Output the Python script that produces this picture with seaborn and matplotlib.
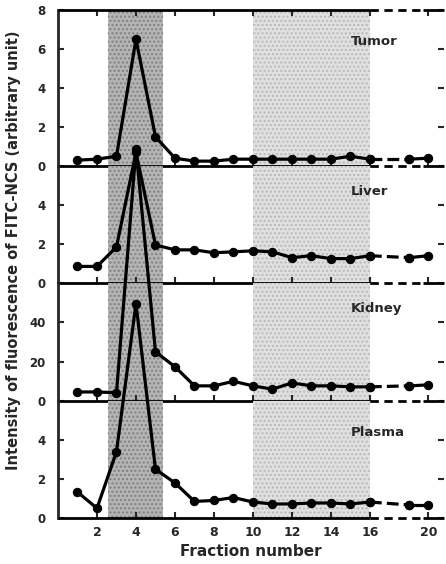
# plot.py
# Stacked panels: FITC-NCS fluorescence per gel fraction in four tissues.

import numpy as np
import pandas as pd
import matplotlib
matplotlib.use("Agg")
import matplotlib.pyplot as plt
import seaborn as sns

# fraction numbers (axis is broken between 16 and 19)
fractions = [1, 2, 3, 4, 5, 6, 7, 8, 9, 10, 11, 12, 13, 14, 15, 16, 19, 20]

tumor = [0.3, 0.35, 0.5, 6.5, 1.5, 0.4, 0.25, 0.25, 0.35, 0.35,
         0.35, 0.35, 0.35, 0.35, 0.5, 0.35, 0.35, 0.4]
liver = [0.85, 0.85, 1.85, 6.7, 1.95, 1.7, 1.7, 1.55, 1.6, 1.65,
         1.6, 1.3, 1.4, 1.25, 1.25, 1.4, 1.3, 1.4]
kidney = [4.6, 4.6, 4.2, 128, 25, 17.4, 7.7, 7.7, 10, 7.7,
          6, 9.2, 7.7, 7.7, 7.2, 7.2, 7.7, 8.2]
plasma = [1.33, 0.5, 3.4, 11.0, 2.5, 1.8, 0.85, 0.9, 1.05, 0.82,
          0.72, 0.72, 0.77, 0.77, 0.72, 0.82, 0.67, 0.67]

panel_names = ["Tumor", "Liver", "Kidney", "Plasma"]
panel_values = [tumor, liver, kidney, plasma]
panel_ylim = [8, 6, 60, 6]
panel_yticks = [[0, 2, 4, 6, 8], [0, 2, 4], [0, 20, 40], [0, 2, 4]]
label_y = [6.36, 4.67, 47, 4.36]

xtick_labels = [2, 4, 6, 8, 10, 12, 14, 16, 20]

# shaded fraction ranges
shade_dark = (2.56, 5.38)
shade_light = (10.0, 16.0)

sns.set_style("ticks")
plt.rcParams["font.family"] = ["DejaVu Sans"]
plt.rcParams["font.weight"] = "bold"


def to_pos(x):
    # compress the axis break: fractions above 16 move one unit left
    x = np.asarray(x, dtype=float)
    return np.where(x > 16, x - 1, x)


W, H = 446, 564
fig = plt.figure(figsize=(W / 100, H / 100), dpi=100)

# panel edges in pixels from the top
edges = [10, 166, 283, 401, 518]
left_px, right_px = 58, 444
xmax = 19.8

axes = []
for i, name in enumerate(panel_names):
    top, bot = edges[i], edges[i + 1]
    ax = fig.add_axes([left_px / W, 1 - bot / H,
                       (right_px - left_px) / W, (bot - top) / H])
    ax.patch.set_alpha(0)
    ax.set_xlim(0, xmax)
    ax.set_ylim(0, panel_ylim[i])

    ax.axvspan(*shade_dark, facecolor="#b4b4b4", edgecolor="#808080",
               hatch="....", linewidth=0, zorder=0)
    ax.axvspan(*shade_light, facecolor="#e0e0e0", edgecolor="#b8b8b8",
               hatch="....", linewidth=0, zorder=0)

    df = pd.DataFrame({"pos": to_pos(fractions), "value": panel_values[i],
                       "frac": fractions})
    solid1 = df[df["frac"] <= 16]
    gap = df[(df["frac"] >= 16) & (df["frac"] <= 19)]
    solid2 = df[df["frac"] >= 19]
    for part, ls in [(solid1, "-"), (gap, "--"), (solid2, "-")]:
        sns.lineplot(data=part, x="pos", y="value", ax=ax, color="black",
                     linewidth=2.3, linestyle=ls, marker="o", markersize=6,
                     markeredgecolor="black", sort=False, clip_on=False,
                     zorder=5)

    ax.text(15.0, label_y[i], name, fontsize=9.5, fontweight="bold",
            va="center", ha="left", zorder=6)

    # spines: left solid, bottom with a dashed break
    for s in ["right", "top", "bottom"]:
        ax.spines[s].set_visible(False)
    ax.spines["left"].set_linewidth(2)
    ys = [0] if i > 0 else [0, panel_ylim[i]]
    for yv in ys:
        ax.plot([0, 16], [yv, yv], color="black", lw=2, clip_on=False,
                solid_capstyle="butt", zorder=4)
        ax.plot([16, 18.7], [yv, yv], color="black", lw=2, ls=(0, (3, 2)),
                clip_on=False, zorder=4)
        ax.plot([18.7, xmax], [yv, yv], color="black", lw=2, clip_on=False,
                solid_capstyle="butt", zorder=4)

    ax.set_xticks(to_pos(xtick_labels))
    ax.set_yticks(panel_yticks[i])
    ax.tick_params(axis="x", direction="in", length=4, width=1.5,
                   top=(i == 0), bottom=True, labelbottom=(i == 3),
                   labelsize=9, pad=6)
    ax.tick_params(axis="y", direction="in", length=4, width=1.5,
                   left=True, right=True, labelsize=8.5, pad=9)
    ax.set_xlabel("")
    ax.set_ylabel("")
    axes.append(ax)

axes[3].set_xticklabels([str(v) for v in xtick_labels], fontweight="bold")
axes[3].set_xlabel("Fraction number", fontsize=11, fontweight="bold",
                   labelpad=3)

fig.text(14 / W, 1 - 250 / H,
         "Intensity of fluorescence of FITC-NCS (arbitrary unit)",
         rotation=90, ha="center", va="center", fontsize=10.5,
         fontweight="bold")

fig.savefig("out.png", dpi=100)
